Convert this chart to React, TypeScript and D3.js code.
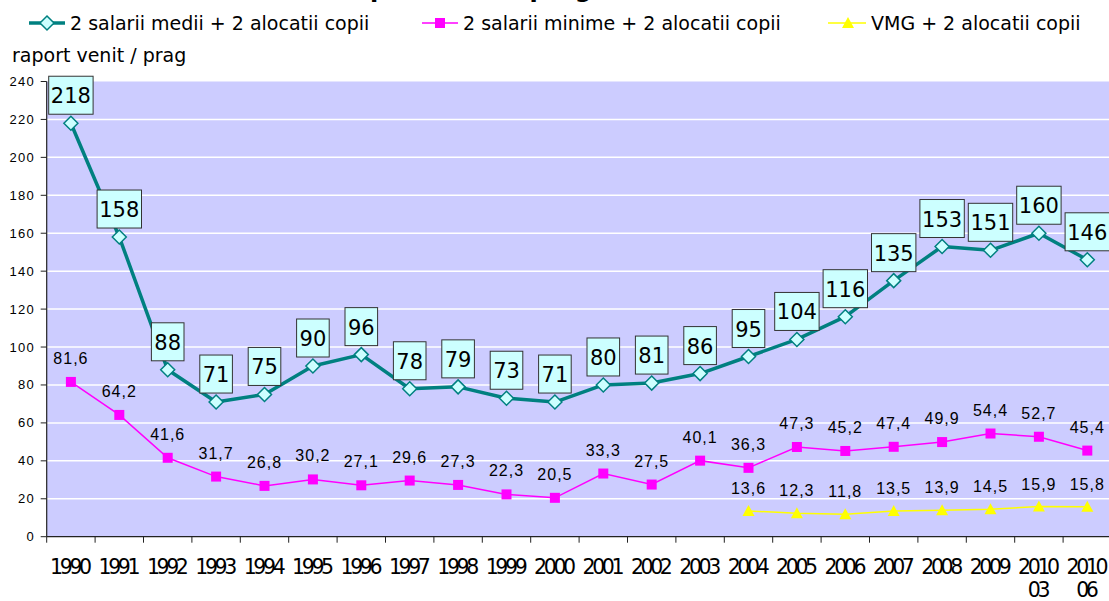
import React from 'react';
import * as d3 from 'd3';

// categories (second line used for the 2010 half-year points)
const years = ['1990', '1991', '1992', '1993', '1994', '1995', '1996', '1997', '1998', '1999', '2000',
  '2001', '2002', '2003', '2004', '2005', '2006', '2007', '2008', '2009', '2010 03', '2010 06'];

const salariiMedii = [218, 158, 88, 71, 75, 90, 96, 78, 79, 73, 71, 80, 81, 86, 95, 104, 116, 135, 153, 151, 160, 146];
const salariiMinime = [81.6, 64.2, 41.6, 31.7, 26.8, 30.2, 27.1, 29.6, 27.3, 22.3, 20.5, 33.3, 27.5, 40.1, 36.3,
  47.3, 45.2, 47.4, 49.9, 54.4, 52.7, 45.4];
const vmgYears = ['2004', '2005', '2006', '2007', '2008', '2009', '2010 03', '2010 06'];
const vmg = [13.6, 12.3, 11.8, 13.5, 13.9, 14.5, 15.9, 15.8];

const yTicks = [0, 20, 40, 60, 80, 100, 120, 140, 160, 180, 200, 220, 240];

const legendLabels = ['2 salarii medii + 2 alocatii copii', '2 salarii minime + 2 alocatii copii', 'VMG + 2 alocatii copii'];

const W = 1109, H = 601;
const TEAL = '#008080', PINK = '#ff00ff', YEL = '#ffff00';
const sans = 'DejaVu Sans, Verdana, sans-serif';
const arial = 'Liberation Sans, Arial, sans-serif';
const comma = (v: number) => d3.format('.1f')(v).replace('.', ',');

const Diamond = ({ cx, cy }: { cx: number; cy: number }) => (
  <path d={`M${cx},${cy - 7}L${cx + 7},${cy}L${cx},${cy + 7}L${cx - 7},${cy}Z`} fill="#ccffff" stroke={TEAL} strokeWidth={1.5} />
);
const Square = ({ cx, cy }: { cx: number; cy: number }) => (
  <rect x={cx - 5} y={cy - 5} width={10} height={10} fill={PINK} />
);
const Tri = ({ cx, cy }: { cx: number; cy: number }) => (
  <path d={`M${cx},${cy - 6}L${cx + 6},${cy + 5}L${cx - 6},${cy + 5}Z`} fill={YEL} />
);

export default function App() {
  const x = d3.scaleBand().domain(years).range([46.7, 1111.5]);
  const y = d3.scaleLinear().domain([0, 240]).range([536.7, 81.5]);
  const cx = (c: string) => (x(c) as number) + x.bandwidth() / 2;

  const line = d3.line<[string, number]>().x(d => cx(d[0])).y(d => y(d[1]));
  const medii = years.map((c, i) => [c, salariiMedii[i]] as [string, number]);
  const minime = years.map((c, i) => [c, salariiMinime[i]] as [string, number]);
  const vm = vmgYears.map((c, i) => [c, vmg[i]] as [string, number]);

  const [x0, x1] = x.range();

  return (
    <svg width={W} height={H} style={{ position: 'absolute', left: 0, top: 0, background: '#fff' }}>
      {/* title, mostly cut off at the top */}
      <text x={592} y={-3} textAnchor="end" fontFamily={sans} fontWeight="bold" fontSize={24}>Raport venit / prag</text>

      {/* legend */}
      <g fontFamily={sans} fontSize={19}>
        <line x1={29} x2={65} y1={23} y2={23} stroke={TEAL} strokeWidth={3.5} />
        <Diamond cx={47} cy={23} />
        <text x={70} y={30}>{legendLabels[0]}</text>
        <line x1={422} x2={458} y1={23} y2={23} stroke={PINK} strokeWidth={1.5} />
        <Square cx={440} cy={23} />
        <text x={463} y={30}>{legendLabels[1]}</text>
        <line x1={828} x2={866} y1={23} y2={23} stroke={YEL} strokeWidth={1.5} />
        <Tri cx={848} cy={23} />
        <text x={871} y={30}>{legendLabels[2]}</text>
      </g>
      <text x={12} y={62} fontFamily={sans} fontSize={19}>raport venit / prag</text>

      {/* plot area */}
      <rect x={x0} y={y(240)} width={x1 - x0} height={y(0) - y(240)} fill="#ccccff" />
      {yTicks.filter(t => t > 0 && t < 240).map(t => (
        <line key={t} x1={x0} x2={x1} y1={y(t)} y2={y(t)} stroke="#fff" strokeWidth={1.5} />
      ))}

      {/* axes */}
      <line x1={x0} x2={x0} y1={y(240)} y2={y(0)} stroke="#222" strokeWidth={1.2} />
      <line x1={x0} x2={x1} y1={y(0)} y2={y(0)} stroke="#222" strokeWidth={1.2} />
      {yTicks.map(t => (
        <g key={t}>
          <line x1={x0 - 6} x2={x0} y1={y(t)} y2={y(t)} stroke="#222" />
          <text x={35} y={y(t) + 4.5} textAnchor="end" fontFamily={arial} fontSize={13} letterSpacing={1.3}>{t}</text>
        </g>
      ))}
      {years.map(c => (
        <line key={c} x1={x(c) as number} x2={x(c) as number} y1={y(0)} y2={y(0) + 6} stroke="#222" />
      ))}
      {years.map(c => {
        const parts = c.split(' ');
        return (
          <text key={c} textAnchor="middle" fontFamily={sans} fontSize={20.5} letterSpacing={-3.4}>
            {parts.map((p, i) => (
              <tspan key={i} x={cx(c) - 1.5} y={574 + i * 23}>{p}</tspan>
            ))}
          </text>
        );
      })}

      {/* VMG */}
      <path d={line(vm) || ''} fill="none" stroke={YEL} strokeWidth={1.5} />
      {vm.map(d => <Tri key={d[0]} cx={cx(d[0])} cy={y(d[1])} />)}
      {vm.map(d => (
        <text key={d[0]} x={cx(d[0])} y={y(d[1]) - 17} textAnchor="middle" fontFamily={arial} fontSize={16} letterSpacing={1}>{comma(d[1])}</text>
      ))}

      {/* minimum wages */}
      <path d={line(minime) || ''} fill="none" stroke={PINK} strokeWidth={1.5} />
      {minime.map(d => <Square key={d[0]} cx={cx(d[0])} cy={y(d[1])} />)}
      {minime.map(d => (
        <text key={d[0]} x={cx(d[0])} y={y(d[1]) - 18} textAnchor="middle" fontFamily={arial} fontSize={16} letterSpacing={1}>{comma(d[1])}</text>
      ))}

      {/* average wages */}
      <path d={line(medii) || ''} fill="none" stroke={TEAL} strokeWidth={3.5} strokeLinejoin="round" />
      {medii.map(d => <Diamond key={d[0]} cx={cx(d[0])} cy={y(d[1])} />)}
      {medii.map(d => {
        const s = String(d[1]);
        const w = s.length * 11.8 + 9;
        const px = cx(d[0]), top = y(d[1]) - 9 - 38;
        return (
          <g key={d[0]}>
            <rect x={px - w / 2} y={top} width={w} height={38} fill="#ccffff" stroke="#333" strokeWidth={1} />
            <text x={px} y={top + 27} textAnchor="middle" fontFamily={sans} fontSize={21}>{s}</text>
          </g>
        );
      })}
    </svg>
  );
}
